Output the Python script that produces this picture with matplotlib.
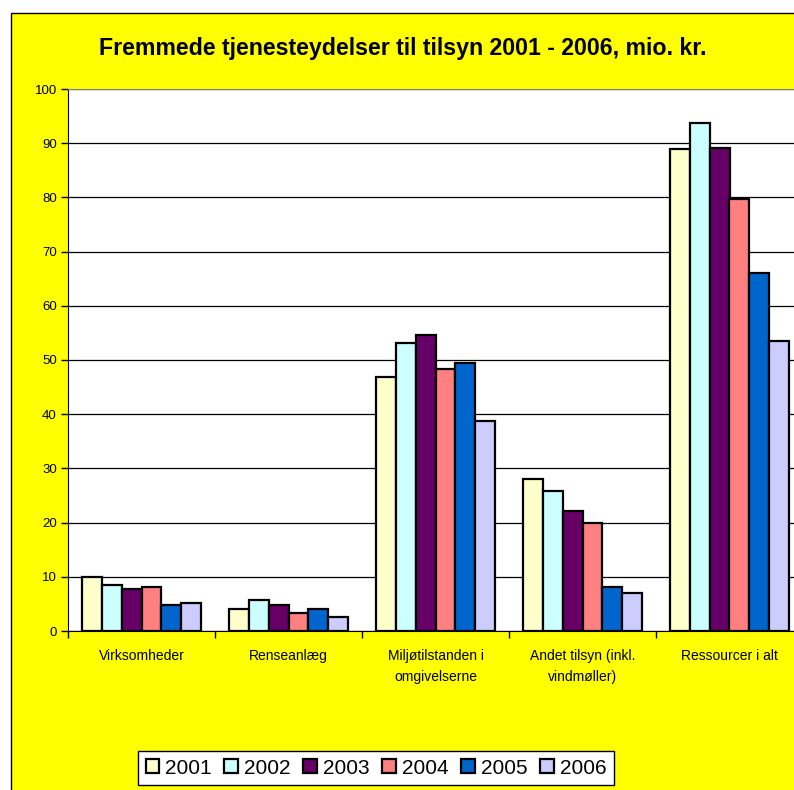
import matplotlib.pyplot as plt
import matplotlib.patches as mpatches
import numpy as np

plt.rcParams['font.family'] = ['Liberation Sans', 'DejaVu Sans']

categories = ['Virksomheder', 'Renseanlæg', 'Miljøtilstanden i\nomgivelserne',
              'Andet tilsyn (inkl.\nvindmøller)', 'Ressourcer i alt']
years = ['2001', '2002', '2003', '2004', '2005', '2006']
v2001 = [10.0, 4.0, 46.9, 28.0, 88.9]
v2002 = [8.5, 5.8, 53.1, 25.8, 93.7]
v2003 = [7.7, 4.8, 54.6, 22.1, 89.2]
v2004 = [8.1, 3.3, 48.3, 19.9, 79.7]
v2005 = [4.8, 4.0, 49.4, 8.1, 66.0]
v2006 = [5.2, 2.5, 38.7, 7.0, 53.5]
colors = ['#FFFFCC', '#CCFFFF', '#660066', '#FF8080', '#0066CC', '#CCCCFF']

series = [v2001, v2002, v2003, v2004, v2005, v2006]

fig = plt.figure(figsize=(7.94, 7.90), dpi=100)
fig.patch.set_facecolor('white')

# yellow chart area
bg = mpatches.Rectangle((11 / 794, -0.1), 1.2, 0.1 + (790 - 13) / 790,
                        transform=fig.transFigure, facecolor='#FFFF00',
                        edgecolor='black', linewidth=1, zorder=-5)
fig.patches.append(bg)

ax = fig.add_axes([68 / 794, (790 - 631) / 790, 735 / 794, 542 / 790])
ax.set_facecolor('white')

x = np.arange(len(categories))
w = 0.136
for i, (vals, c) in enumerate(zip(series, colors)):
    ax.bar(x + (i - 2.5) * w, vals, w, color=c, edgecolor='black',
           linewidth=1.6, label=years[i], zorder=3)

ax.set_xlim(-0.5, 4.5)
ax.set_ylim(0, 100)
ax.set_yticks(np.arange(0, 101, 10))
ax.grid(axis='y', color='black', linewidth=0.9, zorder=1)
ax.tick_params(axis='y', direction='out', length=5, width=1, labelsize=9.5, pad=3)

ax.set_xticks(x)
ax.set_xticklabels(categories, fontsize=10, linespacing=1.6, va='top')
ax.tick_params(axis='x', which='major', length=0, pad=13)
ax.set_xticks(np.arange(-0.5, 5, 1), minor=True)
ax.tick_params(axis='x', which='minor', direction='out', length=5, width=1)

ax.spines['left'].set_color('black')
ax.spines['bottom'].set_color('black')
ax.spines['top'].set_color('#808080')
ax.spines['right'].set_color('#808080')

fig.text(403 / 794, (790 - 49) / 790,
         'Fremmede tjenesteydelser til tilsyn 2001 - 2006, mio. kr.',
         ha='center', va='center', fontsize=16.7, fontweight='bold')

leg = fig.legend(loc='center', bbox_to_anchor=(376 / 794, (790 - 768) / 790),
                 ncol=6, fontsize=15, frameon=True, fancybox=False,
                 framealpha=1, handlelength=0.65, handleheight=0.65,
                 handletextpad=0.3, columnspacing=0.6, borderpad=0.35)
leg.get_frame().set_edgecolor('black')
leg.get_frame().set_linewidth(1)
leg.get_frame().set_facecolor('white')

fig.savefig('out.png', dpi=100, facecolor=fig.get_facecolor())
